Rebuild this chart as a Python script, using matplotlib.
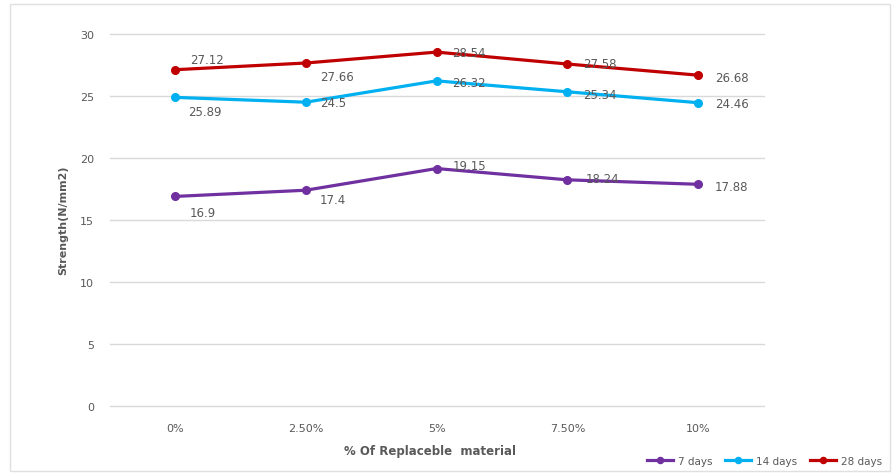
import numpy as np
import matplotlib
matplotlib.use("Agg")
import matplotlib.pyplot as plt
from matplotlib.patches import Rectangle

# data
categories = ["0%", "2.50%", "5%", "7.50%", "10%"]
days7 = [16.9, 17.4, 19.15, 18.24, 17.88]
days14 = [24.89, 24.5, 26.22, 25.34, 24.46]
days28 = [27.12, 27.66, 28.54, 27.58, 26.68]
# data labels as printed on the chart
labels7 = ["16.9", "17.4", "19.15", "18.24", "17.88"]
labels14 = ["25.89", "24.5", "26.32", "25.34", "24.46"]
labels28 = ["27.12", "27.66", "28.54", "27.58", "26.68"]

# label offsets in pixels
off7 = [(15, -16), (14, -9), (16, 3), (18, 1), (17, -2)]
off14 = [(13, -14), (14, 0), (16, -2), (16, -3), (17, -1)]
off28 = [(15, 10), (14, -13), (16, 0), (16, 1), (17, -2)]

grey = "#595959"

fig = plt.figure(figsize=(8.96, 4.77), dpi=100)
ax = fig.add_axes([109.5 / 896, 1 - 407 / 477, 654 / 896, 372 / 477])

x = np.arange(len(categories))
series = [
    (days7, labels7, off7, "#7030A0", "7 days"),
    (days14, labels14, off14, "#00B0F0", "14 days"),
    (days28, labels28, off28, "#C00000", "28 days"),
]
for vals, labs, offs, col, name in series:
    ax.plot(x, vals, color=col, lw=2.3, marker="o", ms=5.5, label=name)
    for xi, v, t, (dx, dy) in zip(x, vals, labs, offs):
        ax.annotate(t, (xi, v), xytext=(dx, dy), textcoords="offset pixels",
                    ha="left", va="center", fontsize=8.5, color=grey)

ax.set_xlim(-0.5, 4.5)
ax.set_ylim(0, 30)
ax.set_yticks(range(0, 31, 5))
ax.set_xticks(x)
ax.set_xticklabels(categories)
ax.tick_params(length=0, labelsize=8, colors=grey)
ax.tick_params(axis="x", pad=12)
ax.tick_params(axis="y", pad=11)
ax.grid(axis="y", color="#d9d9d9", lw=1)
for gl in ax.get_ygridlines():
    gl.set_clip_on(False)
ax.set_axisbelow(True)
for s in ax.spines.values():
    s.set_visible(False)

fig.text(63 / 896, 1 - 220 / 477, "Strength(N/mm2)", rotation=90, ha="center",
         va="center", fontsize=8, fontweight="bold", color=grey)
fig.text(430 / 896, 1 - 452 / 477, "% Of Replaceble  material", ha="center",
         va="center", fontsize=8.5, fontweight="bold", color=grey)

leg = fig.legend(loc="center right", bbox_to_anchor=(0.995, 1 - 462 / 477), ncol=3,
                 frameon=False, fontsize=7.5, handlelength=2.5, columnspacing=1.2,
                 handletextpad=0.5, markerscale=0.8)
for t in leg.get_texts():
    t.set_color(grey)

fig.patches.append(Rectangle((10 / 896, 5 / 477), 880 / 896, 467 / 477, fill=False,
                             edgecolor="#e0e0e0", lw=1, transform=fig.transFigure))

fig.savefig("out.png", dpi=100)
